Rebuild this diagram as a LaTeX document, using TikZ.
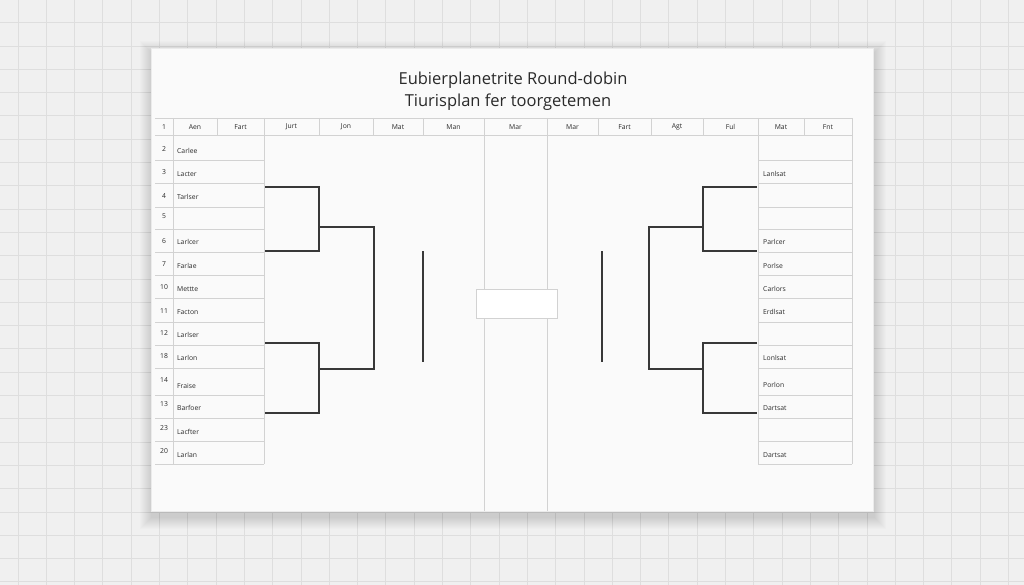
\documentclass[tikz,border=0pt]{standalone}
\usepackage{fontspec}
\setmainfont{Open Sans}
\definecolor{bgc}{HTML}{F0F0F0}
\definecolor{gridc}{HTML}{DEDEDE}
\definecolor{paperc}{HTML}{FAFAFA}
\definecolor{tabc}{HTML}{D2D2D2}
\definecolor{brk}{HTML}{383838}
\definecolor{txt}{HTML}{2A2A2A}
\begin{document}
\begin{tikzpicture}[x=1pt,y=-1pt,
  gridline/.style={draw=gridc,line width=0.9pt},
  tabline/.style={draw=tabc,line width=0.7pt},
  bracket/.style={draw=brk,line width=1.2pt},
  titletext/.style={font=\fontsize{16.5}{19}\selectfont,text=txt,inner sep=0pt},
  small/.style={font=\fontsize{6.8}{8}\selectfont,text=txt,inner sep=0pt},
  namel/.style={small,anchor=west},
  hdr/.style={small}]
\useasboundingbox (0,0) rectangle (1024,585);
\fill[bgc] (0,0) rectangle (1024,585);
\foreach \i in {0,...,36} \draw[gridline] ({18+28.3*\i},0) -- ++(0,585);
\foreach \j in {0,...,25} \draw[gridline] (0,{22.7+23.3*\j}) -- ++(1024,0);
% shadow
\foreach \k in {1,...,12}
  \fill[black,opacity=0.012] ({151-\k+1},{48-\k+5}) rectangle ({873+\k+1},{511+\k+6});
\fill[paperc] (151,48) rectangle (873,511);
\draw[draw=black!8,line width=0.4pt] (151,48) rectangle (873,511);
% title
\node[titletext] (t1) at (513,80) {Eubierplanetrite Round-dobin};
\node[titletext] (t2) at (508,102) {Tiurisplan fer toorgetemen};
% center lines and box
\draw[tabline] (484,118) -- (484,511);
\draw[tabline] (547,118) -- (547,511);
\node[draw=tabc,fill=white,line width=0.7pt,minimum width=81pt,minimum height=29pt,inner sep=0pt] (final) at (516.5,303.5) {};
% header
\draw[tabline] (155,118) -- (852,118);
\draw[tabline] (155,135) -- (852,135);
\foreach \x in {217,319,373,423,598,651,703,804} \draw[tabline] (\x,118) -- (\x,135);
\foreach \x in {173,264,758,852} \draw[tabline] (\x,118) -- (\x,464);
\node[hdr] (h0) at (164,127) {1};
\foreach \a/\b/\t [count=\n] in {173/217/Aen,217/264/Fart,264/319/Jurt,319/373/Jon,373/423/Mat,423/484/Man,484/547/Mar,547/598/Mar,598/651/Fart,651/703/Agt,703/758/Ful,758/804/Mat,804/852/Fnt}
  \node[hdr] (h\n) at ({(\a+\b)/2},127) {\t};
% rows
\foreach \y in {160,183,207,229,252,275,298,322,345,368,395,418,441,464} {
  \draw[tabline] (155,\y) -- (264,\y);
  \draw[tabline] (758,\y) -- (852,\y);
}
\foreach \y/\t [count=\n] in {149/2,172/3,196/4,216/5,241/6,264/7,287/10,311/11,333/12,356/18,380/14,404/13,428/23,451/20}
  \node[small] (rn\n) at (164,\y) {\t};
\foreach \y/\t [count=\n] in {151/Carlee,174/Lacter,197/Tarlser,218/{},242/Larlcer,266/Farlae,289/Mettte,312/Facton,335/Larlser,358/Larlon,386/Fraise,408/Barfoer,432/Lacfter,455/Larlan}
  \node[namel] (ln\n) at (177,\y) {\t};
\foreach \y/\t [count=\n] in {174/Lanlsat,242/Parlcer,266/Porlse,289/Carlors,312/Erdlsat,358/Lonlsat,385/Porlon,408/Dartsat,455/Dartsat}
  \node[namel] (rnm\n) at (763,\y) {\t};
% left bracket
\coordinate (La1) at (265,187); \coordinate (La2) at (265,251);
\coordinate (Lb1) at (265,343); \coordinate (Lb2) at (265,413);
\coordinate (Lm1) at (319,227); \coordinate (Lm2) at (319,369);
\coordinate (Lf1) at (374,227); \coordinate (Lf2) at (374,369);
\draw[bracket] (La1) -- (319,187) -- (319,251) -- (La2);
\draw[bracket] (Lb1) -- (319,343) -- (319,413) -- (Lb2);
\draw[bracket] (Lm1) -- (Lf1) -- (Lf2) -- (Lm2);
\coordinate (Lv1) at (423,251); \coordinate (Lv2) at (423,362);
\draw[bracket] (Lv1) -- (Lv2);
% right bracket
\coordinate (Ra1) at (757,187); \coordinate (Ra2) at (757,251);
\coordinate (Rb1) at (757,343); \coordinate (Rb2) at (757,413);
\coordinate (Rm1) at (703,227); \coordinate (Rm2) at (703,369);
\coordinate (Rf1) at (649,227); \coordinate (Rf2) at (649,369);
\draw[bracket] (Ra1) -- (703,187) -- (703,251) -- (Ra2);
\draw[bracket] (Rb1) -- (703,343) -- (703,413) -- (Rb2);
\draw[bracket] (Rm1) -- (Rf1) -- (Rf2) -- (Rm2);
\coordinate (Rv1) at (602,251); \coordinate (Rv2) at (602,362);
\draw[bracket] (Rv1) -- (Rv2);
\end{tikzpicture}
\end{document}
